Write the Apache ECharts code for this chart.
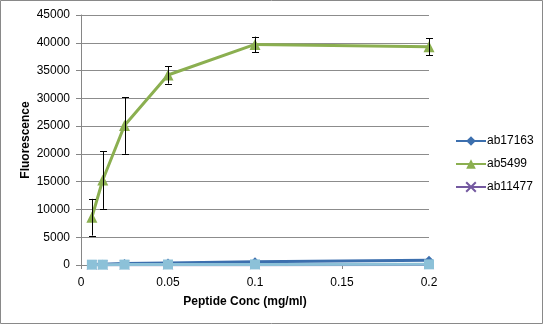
<!DOCTYPE html>
<html><head><meta charset="utf-8">
<script src="https://cdn.jsdelivr.net/npm/echarts@6/dist/echarts.min.js"></script>
<style>html,body{margin:0;padding:0;background:#fff}#c{width:543px;height:324px}</style>
</head><body><div id="c"></div>
<script>
const conc = [0.00625, 0.0125, 0.025, 0.05, 0.1, 0.2];
const ab17163 = [100, 150, 250, 380, 600, 850];
const ab5499 = [8600, 15300, 25100, 34200, 39700, 39300];
const ab5499Err = [3300, 5200, 5100, 1550, 1400, 1500];
const ab11477 = [30, 30, 40, 50, 60, 80];
const series4 = [60, 60, 70, 90, 110, 120];
const yTicks = [0, 5000, 10000, 15000, 20000, 25000, 30000, 35000, 40000, 45000];
const xTicks = [0, 0.05, 0.1, 0.15, 0.2];

const font = 'Liberation Sans';
const pair = (ys) => conc.map((x, i) => [x, ys[i]]);
const errData = conc.map((x, i) => [x, ab5499[i] - ab5499Err[i], ab5499[i] + ab5499Err[i]]);

const chart = echarts.init(document.getElementById('c'));
chart.setOption({
  animation: false,
  backgroundColor: '#fff',
  textStyle: { fontFamily: font },
  grid: { left: 81, right: 114, top: 15, bottom: 59 },
  xAxis: {
    type: 'value', min: xTicks[0], max: xTicks[xTicks.length - 1], interval: 0.05,
    axisLine: { lineStyle: { color: '#868686' } },
    axisTick: { show: true, length: 4, lineStyle: { color: '#868686' } },
    axisLabel: { color: '#000', fontSize: 12, margin: 12, formatter: v => String(v) },
    splitLine: { show: false },
    name: 'Peptide Conc (mg/ml)', nameLocation: 'middle', nameGap: 31,
    nameTextStyle: { color: '#000', fontWeight: 'bold', fontSize: 12, padding: [0, 20, 0, 0] }
  },
  yAxis: {
    type: 'value', min: yTicks[0], max: yTicks[yTicks.length - 1], interval: 5000,
    axisLine: { show: true, lineStyle: { color: '#868686' } },
    axisTick: { show: true, length: 5, lineStyle: { color: '#868686' } },
    axisLabel: { color: '#000', fontSize: 12, margin: 11, formatter: v => String(v) },
    splitLine: { lineStyle: { color: '#8c8c8c', width: 1 } },
    name: 'Fluorescence', nameLocation: 'middle', nameGap: 49, nameMoveOverlap: false,
    nameTextStyle: { color: '#000', fontWeight: 'bold', fontSize: 12 }
  },
  legend: {
    orient: 'vertical', left: 450, top: 130, itemGap: 11, itemWidth: 30, itemHeight: 12,
    data: ['ab17163', 'ab5499', 'ab11477'],
    textStyle: { color: '#000', fontSize: 12, padding: [0, 0, 0, -4] }
  },
  graphic: [{
    type: 'rect', shape: { x: 0.5, y: 0.5, width: 542, height: 323 },
    style: { fill: 'none', stroke: '#898989', lineWidth: 1 }, silent: true
  }],
  series: [
    { name: 'ab17163', type: 'line', data: pair(ab17163), symbol: 'diamond', symbolSize: 9,
      lineStyle: { width: 3, color: '#3C6FAE' }, itemStyle: { color: '#3C6FAE' } },
    { name: 'ab11477', type: 'line', data: pair(ab11477), symbol: 'path://M0,0L10,10M10,0L0,10', symbolSize: 9,
      lineStyle: { width: 3, color: '#7459A0' }, itemStyle: { color: '#7459A0', borderColor: '#7459A0', borderWidth: 1 } },
    { name: 'series4', type: 'line', data: pair(series4), symbol: 'rect', symbolSize: 10,
      lineStyle: { width: 3, color: '#8CC1D8' }, itemStyle: { color: '#8CC1D8' } },
    { name: 'ab5499', type: 'line', data: pair(ab5499), symbol: 'triangle', symbolSize: 11,
      lineStyle: { width: 3, color: '#8BAF50' }, itemStyle: { color: '#8BAF50' }, z: 3 },
    { name: 'err', type: 'custom', data: errData, z: 4,
      renderItem: (params, api) => {
        const x = api.value(0);
        const lo = api.coord([x, api.value(1)]);
        const hi = api.coord([x, api.value(2)]);
        const cx = Math.round(lo[0]) + 0.5;
        const w = 3.5;
        const st = { stroke: '#000', lineWidth: 1 };
        return { type: 'group', children: [
          { type: 'line', shape: { x1: cx, y1: lo[1], x2: cx, y2: hi[1] }, style: st },
          { type: 'line', shape: { x1: cx - w, y1: Math.round(lo[1]) + 0.5, x2: cx + w, y2: Math.round(lo[1]) + 0.5 }, style: st },
          { type: 'line', shape: { x1: cx - w, y1: Math.round(hi[1]) + 0.5, x2: cx + w, y2: Math.round(hi[1]) + 0.5 }, style: st }
        ]};
      } }
  ]
});
</script></body></html>
